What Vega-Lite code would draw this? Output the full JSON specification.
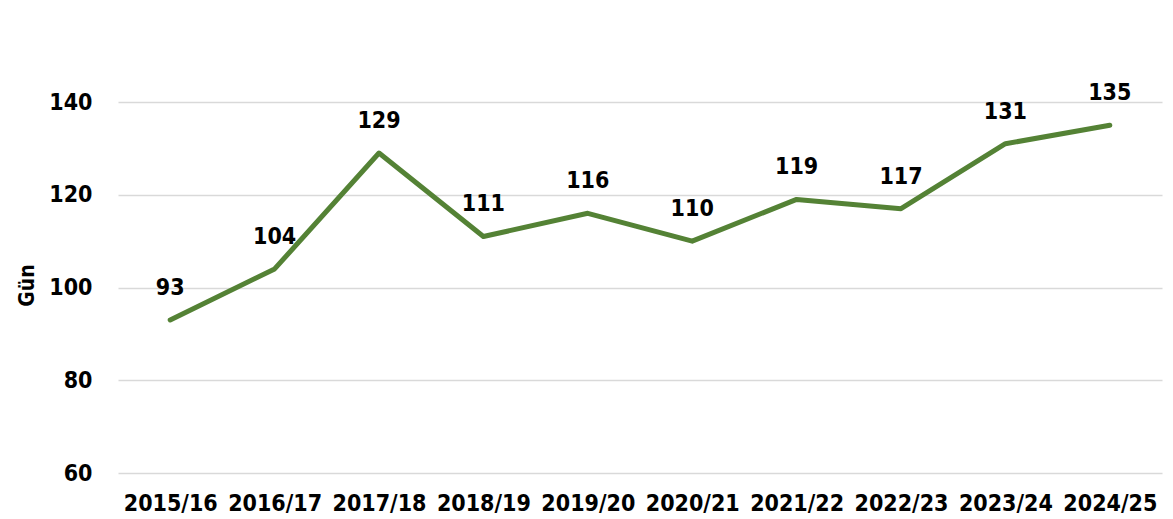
{
  "$schema": "https://vega.github.io/schema/vega-lite/v6.json",
  "width": 1044,
  "height": 371,
  "autosize": "none",
  "padding": {"left": 118, "top": 102, "right": 11, "bottom": 46},
  "background": "white",
  "config": {"view": {"stroke": null}, "font": "Liberation Sans Narrow, Arial Narrow, DejaVu Sans Condensed, sans-serif"},
  "data": {"values": [
    {"season": "2015/16", "days": 93},
    {"season": "2016/17", "days": 104},
    {"season": "2017/18", "days": 129},
    {"season": "2018/19", "days": 111},
    {"season": "2019/20", "days": 116},
    {"season": "2020/21", "days": 110},
    {"season": "2021/22", "days": 119},
    {"season": "2022/23", "days": 117},
    {"season": "2023/24", "days": 131},
    {"season": "2024/25", "days": 135}
  ]},
  "encoding": {
    "x": {"field": "season", "type": "ordinal", "sort": null,
      "scale": {"paddingInner": 0, "paddingOuter": 0},
      "axis": {"title": null, "labelAngle": 0, "domain": false, "ticks": false, "grid": false,
        "labelFont": "Liberation Sans Narrow, Arial Narrow, DejaVu Sans Condensed, sans-serif", "labelFontWeight": "bold", "labelFontSize": 23,
        "labelColor": "#000000", "labelPadding": 19, "labelBaseline": "top"}},
    "y": {"field": "days", "type": "quantitative",
      "scale": {"domain": [60, 140], "nice": false, "zero": false},
      "axis": {"title": "Gün", "values": [60, 80, 100, 120, 140], "domain": false, "ticks": false,
        "grid": true, "gridColor": "#d9d9d9", "gridWidth": 1.5,
        "labelFont": "Liberation Sans Narrow, Arial Narrow, DejaVu Sans Condensed, sans-serif", "labelFontWeight": "bold", "labelFontSize": 23,
        "labelColor": "#000000", "labelPadding": 26, "labelBaseline": "middle",
        "titleFont": "Liberation Sans Narrow, Arial Narrow, DejaVu Sans Condensed, sans-serif", "titleFontWeight": "bold", "titleFontSize": 21,
        "titleColor": "#000000", "titleX": -91, "titleY": 183, "titleAngle": -90,
        "titleAlign": "center", "titleBaseline": "middle"}}
  },
  "layer": [
    {"mark": {"type": "line", "color": "#548235", "strokeWidth": 5, "strokeCap": "round", "strokeJoin": "round"}},
    {"mark": {"type": "text", "dy": -32, "font": "Liberation Sans Narrow, Arial Narrow, DejaVu Sans Condensed, sans-serif", "fontWeight": "bold", "fontSize": 23, "color": "#000000", "baseline": "middle"},
      "encoding": {"text": {"field": "days", "type": "quantitative"}}}
  ]
}
